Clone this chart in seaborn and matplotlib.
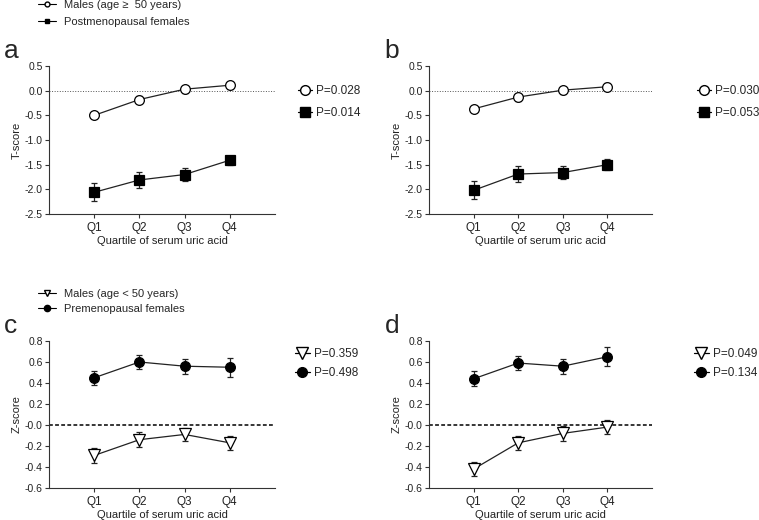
import numpy as np
import pandas as pd
import matplotlib
matplotlib.use("Agg")
import matplotlib.pyplot as plt
import seaborn as sns
from matplotlib.lines import Line2D

sns.set_style("ticks")
plt.rcParams['font.family'] = ['Liberation Sans', 'DejaVu Sans']

quartiles = ["Q1", "Q2", "Q3", "Q4"]
xpos = [1, 2, 3, 4]

# Panel a (T-score)
a_males = [-0.50, -0.18, 0.03, 0.11]
a_males_err = [0.06, 0.07, 0.07, 0.07]
a_fem = [-2.06, -1.81, -1.70, -1.41]
a_fem_err = [0.18, 0.16, 0.14, 0.09]
# Panel b (T-score)
b_males = [-0.37, -0.13, 0.01, 0.08]
b_males_err = [0.06, 0.07, 0.07, 0.07]
b_fem = [-2.02, -1.69, -1.66, -1.50]
b_fem_err = [0.18, 0.16, 0.14, 0.11]
# Panel c (Z-score)
c_males = [-0.29, -0.14, -0.09, -0.17]
c_males_err = [0.07, 0.07, 0.065, 0.07]
c_fem = [0.45, 0.60, 0.56, 0.55]
c_fem_err = [0.065, 0.07, 0.07, 0.09]
# Panel d (Z-score)
d_males = [-0.42, -0.17, -0.08, -0.02]
d_males_err = [0.07, 0.065, 0.07, 0.07]
d_fem = [0.44, 0.59, 0.56, 0.65]
d_fem_err = [0.07, 0.07, 0.07, 0.09]

p_a = ["P=0.028", "P=0.014"]
p_b = ["P=0.030", "P=0.053"]
p_c = ["P=0.359", "P=0.498"]
p_d = ["P=0.049", "P=0.134"]

t_ticks = [0.5, 0.0, -0.5, -1.0, -1.5, -2.0, -2.5]
t_labels = ["0.5", "0.0", "-0.5", "-1.0", "-1.5", "-2.0", "-2.5"]
z_ticks = [0.8, 0.6, 0.4, 0.2, 0.0, -0.2, -0.4, -0.6]
z_labels = ["0.8", "0.6", "0.4", "0.2", "-0.0", "-0.2", "-0.4", "-0.6"]

W, H = 759, 520
fig = plt.figure(figsize=(W / 100, H / 100), dpi=100)

def axrect(x0, x1, ytop, ybot):
    return [x0 / W, 1 - ybot / H, (x1 - x0) / W, (ybot - ytop) / H]

ax_a = fig.add_axes(axrect(49, 275, 66, 214))
ax_b = fig.add_axes(axrect(429, 652, 66, 214))
ax_c = fig.add_axes(axrect(49, 275, 341, 488))
ax_d = fig.add_axes(axrect(429, 652, 341, 488))

def draw(ax, m, me, f, fe, mstyle, fstyle, ylim, ticks, labels, ylabel, zstyle,
         pl, letter, leg_anchor, leg_space):
    df = pd.DataFrame({"x": xpos * 2, "y": m + f,
                       "g": ["m"] * 4 + ["f"] * 4})
    for vals, errs in ((m, me), (f, fe)):
        ax.errorbar(xpos, vals, yerr=errs, fmt="none", ecolor="#222222",
                    elinewidth=0.9, capsize=2.5, capthick=0.9, zorder=2)
    sns.lineplot(data=df[df.g == "m"], x="x", y="y", ax=ax, color="#222222",
                 lw=0.9, marker=mstyle[0], markersize=mstyle[1],
                 markerfacecolor=mstyle[2], markeredgecolor="black",
                 markeredgewidth=0.9, zorder=3, legend=False)
    sns.lineplot(data=df[df.g == "f"], x="x", y="y", ax=ax, color="#222222",
                 lw=0.9, marker=fstyle[0], markersize=fstyle[1],
                 markerfacecolor=fstyle[2], markeredgecolor="black",
                 markeredgewidth=0.9, zorder=3, legend=False)
    ax.axhline(0, color=zstyle[0], lw=zstyle[1], ls=zstyle[2], zorder=1)
    ax.set_xlim(0, 5)
    ax.set_ylim(*ylim)
    ax.set_xticks(xpos)
    ax.set_xticklabels(quartiles, fontsize=8.5)
    ax.set_yticks(ticks)
    ax.set_yticklabels(labels, fontsize=7.5)
    ax.tick_params(axis="y", length=3, width=0.8, color="#333333", pad=1.5,
                   labelcolor="#222222")
    ax.tick_params(axis="x", length=3, width=0.8, color="#333333", pad=3,
                   labelcolor="#222222")
    ax.set_xlabel("Quartile of serum uric acid", fontsize=8, labelpad=1, color="#222222")
    ax.set_ylabel(ylabel, fontsize=8, labelpad=2, color="#222222")
    for s in ("top", "right"):
        ax.spines[s].set_visible(False)
    for s in ("left", "bottom"):
        ax.spines[s].set_linewidth(0.8)
        ax.spines[s].set_color("#333333")
    handles = [
        Line2D([], [], color="black", lw=0.9, marker=mstyle[0], markersize=mstyle[1],
               markerfacecolor=mstyle[2], markeredgecolor="black"),
        Line2D([], [], color="black", lw=0.9, marker=fstyle[0], markersize=fstyle[1],
               markerfacecolor=fstyle[2], markeredgecolor="black"),
    ]
    ax.legend(handles, pl, loc="upper left", bbox_to_anchor=leg_anchor,
              frameon=False, fontsize=8.5, handlelength=1.2, handletextpad=0.4,
              labelspacing=leg_space, borderaxespad=0, borderpad=0)
    ax.text(-0.2, 1.02, letter, transform=ax.transAxes, fontsize=19,
            ha="left", va="bottom")

open_circle = ("o", 7, "white")
sq = ("s", 7.5, "black")
tri = ("v", 8, "white")
dot = ("o", 7, "black")

draw(ax_a, a_males, a_males_err, a_fem, a_fem_err, open_circle, sq,
     (-2.5, 0.5), t_ticks, t_labels, "T-score", ("#555555", 0.7, ":"), p_a, "a",
     (1.10, 0.87), 0.85)
draw(ax_b, b_males, b_males_err, b_fem, b_fem_err, open_circle, sq,
     (-2.5, 0.5), t_ticks, t_labels, "T-score", ("#555555", 0.7, ":"), p_b, "b",
     (1.20, 0.87), 0.85)
draw(ax_c, c_males, c_males_err, c_fem, c_fem_err, tri, dot,
     (-0.6, 0.8), z_ticks, z_labels, "Z-score", ("black", 1.1, (0, (2.5, 1.5))), p_c, "c",
     (1.09, 0.95), 0.55)
draw(ax_d, d_males, d_males_err, d_fem, d_fem_err, tri, dot,
     (-0.6, 0.8), z_ticks, z_labels, "Z-score", ("black", 1.1, (0, (2.5, 1.5))), p_d, "d",
     (1.19, 0.95), 0.55)

top_handles = [
    Line2D([], [], color="black", lw=0.8, marker="o", markersize=3.5,
           markerfacecolor="white", markeredgecolor="black"),
    Line2D([], [], color="black", lw=0.8, marker="s", markersize=3.5,
           markerfacecolor="black", markeredgecolor="black"),
]
fig.legend(top_handles, ["Males (age \u2265  50 years)", "Postmenopausal females"],
           loc="upper left", bbox_to_anchor=(38 / W, 1 - 0 / H), frameon=False,
           fontsize=8, handlelength=1.6, handletextpad=0.7, labelspacing=0.6,
           borderaxespad=0, borderpad=0)
bot_handles = [
    Line2D([], [], color="black", lw=0.8, marker="v", markersize=5,
           markerfacecolor="white", markeredgecolor="black"),
    Line2D([], [], color="black", lw=0.8, marker="o", markersize=4.5,
           markerfacecolor="black", markeredgecolor="black"),
]
fig.legend(bot_handles, ["Males (age < 50 years)", "Premenopausal females"],
           loc="upper left", bbox_to_anchor=(38 / W, 1 - 289 / H), frameon=False,
           fontsize=8, handlelength=1.6, handletextpad=0.7, labelspacing=0.45,
           borderaxespad=0, borderpad=0)

fig.savefig("out.png", dpi=100)
